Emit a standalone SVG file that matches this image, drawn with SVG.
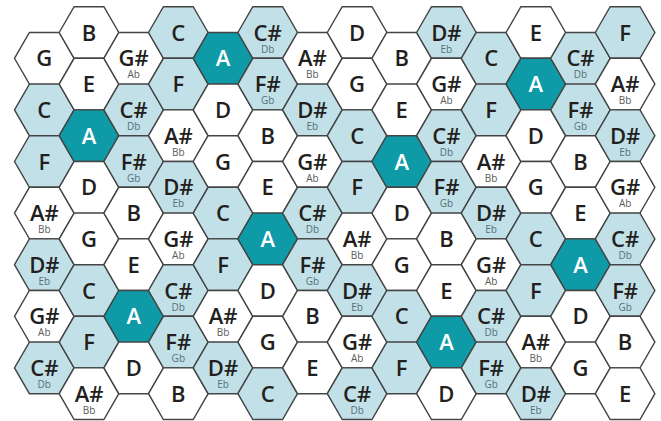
<svg xmlns="http://www.w3.org/2000/svg" width="661" height="421" viewBox="0 0 661 421">
<style>
use{stroke:#444;stroke-width:1.4;stroke-linejoin:miter}
.w use{fill:#ffffff}
.l use{fill:#c1e0e7}
.t use{fill:#0e9aa7}
text{font-family:"Open Sans","Liberation Sans",sans-serif;text-anchor:middle}
.m{font-size:22px;font-weight:600;fill:#231f20}
.t .m{fill:#ffffff}
.s{font-size:10px;font-weight:400;fill:#5a5a5a}
.l .s{fill:#55707a}
</style>
<defs>
<polygon id="hex" points="-29.8,0 -14.9,-25.8 14.9,-25.8 29.8,0 14.9,25.8 -14.9,25.8"/>
</defs>
<rect width="661" height="421" fill="#ffffff"/>
<g id="grid">
<!-- col 0 -->
<g id="c0r0" class="w" transform="translate(44.3,58.3)"><use href="#hex"/><text class="m" y="8">G</text></g>
<g id="c0r1" class="l" transform="translate(44.3,109.9)"><use href="#hex"/><text class="m" y="8">C</text></g>
<g id="c0r2" class="l" transform="translate(44.3,161.5)"><use href="#hex"/><text class="m" y="8">F</text></g>
<g id="c0r3" class="w" transform="translate(44.3,213.1)"><use href="#hex"/><text class="m"><tspan x="0" y="8">A#</tspan><tspan class="s" x="0" y="20">Bb</tspan></text></g>
<g id="c0r4" class="l" transform="translate(44.3,264.7)"><use href="#hex"/><text class="m"><tspan x="0" y="8">D#</tspan><tspan class="s" x="0" y="20">Eb</tspan></text></g>
<g id="c0r5" class="w" transform="translate(44.3,316.3)"><use href="#hex"/><text class="m"><tspan x="0" y="8">G#</tspan><tspan class="s" x="0" y="20">Ab</tspan></text></g>
<g id="c0r6" class="l" transform="translate(44.3,367.9)"><use href="#hex"/><text class="m"><tspan x="0" y="8">C#</tspan><tspan class="s" x="0" y="20">Db</tspan></text></g>
<!-- col 1 -->
<g id="c1r0" class="w" transform="translate(89,32.5)"><use href="#hex"/><text class="m" y="8">B</text></g>
<g id="c1r1" class="w" transform="translate(89,84.1)"><use href="#hex"/><text class="m" y="8">E</text></g>
<g id="c1r2" class="t" transform="translate(89,135.7)"><use href="#hex"/><text class="m" y="8">A</text></g>
<g id="c1r3" class="w" transform="translate(89,187.3)"><use href="#hex"/><text class="m" y="8">D</text></g>
<g id="c1r4" class="w" transform="translate(89,238.9)"><use href="#hex"/><text class="m" y="8">G</text></g>
<g id="c1r5" class="l" transform="translate(89,290.5)"><use href="#hex"/><text class="m" y="8">C</text></g>
<g id="c1r6" class="l" transform="translate(89,342.1)"><use href="#hex"/><text class="m" y="8">F</text></g>
<g id="c1r7" class="w" transform="translate(89,393.7)"><use href="#hex"/><text class="m"><tspan x="0" y="8">A#</tspan><tspan class="s" x="0" y="20">Bb</tspan></text></g>
<!-- col 2 -->
<g id="c2r0" class="w" transform="translate(133.7,58.3)"><use href="#hex"/><text class="m"><tspan x="0" y="8">G#</tspan><tspan class="s" x="0" y="20">Ab</tspan></text></g>
<g id="c2r1" class="l" transform="translate(133.7,109.9)"><use href="#hex"/><text class="m"><tspan x="0" y="8">C#</tspan><tspan class="s" x="0" y="20">Db</tspan></text></g>
<g id="c2r2" class="l" transform="translate(133.7,161.5)"><use href="#hex"/><text class="m"><tspan x="0" y="8">F#</tspan><tspan class="s" x="0" y="20">Gb</tspan></text></g>
<g id="c2r3" class="w" transform="translate(133.7,213.1)"><use href="#hex"/><text class="m" y="8">B</text></g>
<g id="c2r4" class="w" transform="translate(133.7,264.7)"><use href="#hex"/><text class="m" y="8">E</text></g>
<g id="c2r5" class="t" transform="translate(133.7,316.3)"><use href="#hex"/><text class="m" y="8">A</text></g>
<g id="c2r6" class="w" transform="translate(133.7,367.9)"><use href="#hex"/><text class="m" y="8">D</text></g>
<!-- col 3 -->
<g id="c3r0" class="l" transform="translate(178.3,32.5)"><use href="#hex"/><text class="m" y="8">C</text></g>
<g id="c3r1" class="l" transform="translate(178.3,84.1)"><use href="#hex"/><text class="m" y="8">F</text></g>
<g id="c3r2" class="w" transform="translate(178.3,135.7)"><use href="#hex"/><text class="m"><tspan x="0" y="8">A#</tspan><tspan class="s" x="0" y="20">Bb</tspan></text></g>
<g id="c3r3" class="l" transform="translate(178.3,187.3)"><use href="#hex"/><text class="m"><tspan x="0" y="8">D#</tspan><tspan class="s" x="0" y="20">Eb</tspan></text></g>
<g id="c3r4" class="w" transform="translate(178.3,238.9)"><use href="#hex"/><text class="m"><tspan x="0" y="8">G#</tspan><tspan class="s" x="0" y="20">Ab</tspan></text></g>
<g id="c3r5" class="l" transform="translate(178.3,290.5)"><use href="#hex"/><text class="m"><tspan x="0" y="8">C#</tspan><tspan class="s" x="0" y="20">Db</tspan></text></g>
<g id="c3r6" class="l" transform="translate(178.3,342.1)"><use href="#hex"/><text class="m"><tspan x="0" y="8">F#</tspan><tspan class="s" x="0" y="20">Gb</tspan></text></g>
<g id="c3r7" class="w" transform="translate(178.3,393.7)"><use href="#hex"/><text class="m" y="8">B</text></g>
<!-- col 4 -->
<g id="c4r0" class="t" transform="translate(223,58.3)"><use href="#hex"/><text class="m" y="8">A</text></g>
<g id="c4r1" class="w" transform="translate(223,109.9)"><use href="#hex"/><text class="m" y="8">D</text></g>
<g id="c4r2" class="w" transform="translate(223,161.5)"><use href="#hex"/><text class="m" y="8">G</text></g>
<g id="c4r3" class="l" transform="translate(223,213.1)"><use href="#hex"/><text class="m" y="8">C</text></g>
<g id="c4r4" class="l" transform="translate(223,264.7)"><use href="#hex"/><text class="m" y="8">F</text></g>
<g id="c4r5" class="w" transform="translate(223,316.3)"><use href="#hex"/><text class="m"><tspan x="0" y="8">A#</tspan><tspan class="s" x="0" y="20">Bb</tspan></text></g>
<g id="c4r6" class="l" transform="translate(223,367.9)"><use href="#hex"/><text class="m"><tspan x="0" y="8">D#</tspan><tspan class="s" x="0" y="20">Eb</tspan></text></g>
<!-- col 5 -->
<g id="c5r0" class="l" transform="translate(267.7,32.5)"><use href="#hex"/><text class="m"><tspan x="0" y="8">C#</tspan><tspan class="s" x="0" y="20">Db</tspan></text></g>
<g id="c5r1" class="l" transform="translate(267.7,84.1)"><use href="#hex"/><text class="m"><tspan x="0" y="8">F#</tspan><tspan class="s" x="0" y="20">Gb</tspan></text></g>
<g id="c5r2" class="w" transform="translate(267.7,135.7)"><use href="#hex"/><text class="m" y="8">B</text></g>
<g id="c5r3" class="w" transform="translate(267.7,187.3)"><use href="#hex"/><text class="m" y="8">E</text></g>
<g id="c5r4" class="t" transform="translate(267.7,238.9)"><use href="#hex"/><text class="m" y="8">A</text></g>
<g id="c5r5" class="w" transform="translate(267.7,290.5)"><use href="#hex"/><text class="m" y="8">D</text></g>
<g id="c5r6" class="w" transform="translate(267.7,342.1)"><use href="#hex"/><text class="m" y="8">G</text></g>
<g id="c5r7" class="l" transform="translate(267.7,393.7)"><use href="#hex"/><text class="m" y="8">C</text></g>
<!-- col 6 -->
<g id="c6r0" class="w" transform="translate(312.4,58.3)"><use href="#hex"/><text class="m"><tspan x="0" y="8">A#</tspan><tspan class="s" x="0" y="20">Bb</tspan></text></g>
<g id="c6r1" class="l" transform="translate(312.4,109.9)"><use href="#hex"/><text class="m"><tspan x="0" y="8">D#</tspan><tspan class="s" x="0" y="20">Eb</tspan></text></g>
<g id="c6r2" class="w" transform="translate(312.4,161.5)"><use href="#hex"/><text class="m"><tspan x="0" y="8">G#</tspan><tspan class="s" x="0" y="20">Ab</tspan></text></g>
<g id="c6r3" class="l" transform="translate(312.4,213.1)"><use href="#hex"/><text class="m"><tspan x="0" y="8">C#</tspan><tspan class="s" x="0" y="20">Db</tspan></text></g>
<g id="c6r4" class="l" transform="translate(312.4,264.7)"><use href="#hex"/><text class="m"><tspan x="0" y="8">F#</tspan><tspan class="s" x="0" y="20">Gb</tspan></text></g>
<g id="c6r5" class="w" transform="translate(312.4,316.3)"><use href="#hex"/><text class="m" y="8">B</text></g>
<g id="c6r6" class="w" transform="translate(312.4,367.9)"><use href="#hex"/><text class="m" y="8">E</text></g>
<!-- col 7 -->
<g id="c7r0" class="w" transform="translate(357.1,32.5)"><use href="#hex"/><text class="m" y="8">D</text></g>
<g id="c7r1" class="w" transform="translate(357.1,84.1)"><use href="#hex"/><text class="m" y="8">G</text></g>
<g id="c7r2" class="l" transform="translate(357.1,135.7)"><use href="#hex"/><text class="m" y="8">C</text></g>
<g id="c7r3" class="l" transform="translate(357.1,187.3)"><use href="#hex"/><text class="m" y="8">F</text></g>
<g id="c7r4" class="w" transform="translate(357.1,238.9)"><use href="#hex"/><text class="m"><tspan x="0" y="8">A#</tspan><tspan class="s" x="0" y="20">Bb</tspan></text></g>
<g id="c7r5" class="l" transform="translate(357.1,290.5)"><use href="#hex"/><text class="m"><tspan x="0" y="8">D#</tspan><tspan class="s" x="0" y="20">Eb</tspan></text></g>
<g id="c7r6" class="w" transform="translate(357.1,342.1)"><use href="#hex"/><text class="m"><tspan x="0" y="8">G#</tspan><tspan class="s" x="0" y="20">Ab</tspan></text></g>
<g id="c7r7" class="l" transform="translate(357.1,393.7)"><use href="#hex"/><text class="m"><tspan x="0" y="8">C#</tspan><tspan class="s" x="0" y="20">Db</tspan></text></g>
<!-- col 8 -->
<g id="c8r0" class="w" transform="translate(401.7,58.3)"><use href="#hex"/><text class="m" y="8">B</text></g>
<g id="c8r1" class="w" transform="translate(401.7,109.9)"><use href="#hex"/><text class="m" y="8">E</text></g>
<g id="c8r2" class="t" transform="translate(401.7,161.5)"><use href="#hex"/><text class="m" y="8">A</text></g>
<g id="c8r3" class="w" transform="translate(401.7,213.1)"><use href="#hex"/><text class="m" y="8">D</text></g>
<g id="c8r4" class="w" transform="translate(401.7,264.7)"><use href="#hex"/><text class="m" y="8">G</text></g>
<g id="c8r5" class="l" transform="translate(401.7,316.3)"><use href="#hex"/><text class="m" y="8">C</text></g>
<g id="c8r6" class="l" transform="translate(401.7,367.9)"><use href="#hex"/><text class="m" y="8">F</text></g>
<!-- col 9 -->
<g id="c9r0" class="l" transform="translate(446.4,32.5)"><use href="#hex"/><text class="m"><tspan x="0" y="8">D#</tspan><tspan class="s" x="0" y="20">Eb</tspan></text></g>
<g id="c9r1" class="w" transform="translate(446.4,84.1)"><use href="#hex"/><text class="m"><tspan x="0" y="8">G#</tspan><tspan class="s" x="0" y="20">Ab</tspan></text></g>
<g id="c9r2" class="l" transform="translate(446.4,135.7)"><use href="#hex"/><text class="m"><tspan x="0" y="8">C#</tspan><tspan class="s" x="0" y="20">Db</tspan></text></g>
<g id="c9r3" class="l" transform="translate(446.4,187.3)"><use href="#hex"/><text class="m"><tspan x="0" y="8">F#</tspan><tspan class="s" x="0" y="20">Gb</tspan></text></g>
<g id="c9r4" class="w" transform="translate(446.4,238.9)"><use href="#hex"/><text class="m" y="8">B</text></g>
<g id="c9r5" class="w" transform="translate(446.4,290.5)"><use href="#hex"/><text class="m" y="8">E</text></g>
<g id="c9r6" class="t" transform="translate(446.4,342.1)"><use href="#hex"/><text class="m" y="8">A</text></g>
<g id="c9r7" class="w" transform="translate(446.4,393.7)"><use href="#hex"/><text class="m" y="8">D</text></g>
<!-- col 10 -->
<g id="c10r0" class="l" transform="translate(491.1,58.3)"><use href="#hex"/><text class="m" y="8">C</text></g>
<g id="c10r1" class="l" transform="translate(491.1,109.9)"><use href="#hex"/><text class="m" y="8">F</text></g>
<g id="c10r2" class="w" transform="translate(491.1,161.5)"><use href="#hex"/><text class="m"><tspan x="0" y="8">A#</tspan><tspan class="s" x="0" y="20">Bb</tspan></text></g>
<g id="c10r3" class="l" transform="translate(491.1,213.1)"><use href="#hex"/><text class="m"><tspan x="0" y="8">D#</tspan><tspan class="s" x="0" y="20">Eb</tspan></text></g>
<g id="c10r4" class="w" transform="translate(491.1,264.7)"><use href="#hex"/><text class="m"><tspan x="0" y="8">G#</tspan><tspan class="s" x="0" y="20">Ab</tspan></text></g>
<g id="c10r5" class="l" transform="translate(491.1,316.3)"><use href="#hex"/><text class="m"><tspan x="0" y="8">C#</tspan><tspan class="s" x="0" y="20">Db</tspan></text></g>
<g id="c10r6" class="l" transform="translate(491.1,367.9)"><use href="#hex"/><text class="m"><tspan x="0" y="8">F#</tspan><tspan class="s" x="0" y="20">Gb</tspan></text></g>
<!-- col 11 -->
<g id="c11r0" class="w" transform="translate(535.8,32.5)"><use href="#hex"/><text class="m" y="8">E</text></g>
<g id="c11r1" class="t" transform="translate(535.8,84.1)"><use href="#hex"/><text class="m" y="8">A</text></g>
<g id="c11r2" class="w" transform="translate(535.8,135.7)"><use href="#hex"/><text class="m" y="8">D</text></g>
<g id="c11r3" class="w" transform="translate(535.8,187.3)"><use href="#hex"/><text class="m" y="8">G</text></g>
<g id="c11r4" class="l" transform="translate(535.8,238.9)"><use href="#hex"/><text class="m" y="8">C</text></g>
<g id="c11r5" class="l" transform="translate(535.8,290.5)"><use href="#hex"/><text class="m" y="8">F</text></g>
<g id="c11r6" class="w" transform="translate(535.8,342.1)"><use href="#hex"/><text class="m"><tspan x="0" y="8">A#</tspan><tspan class="s" x="0" y="20">Bb</tspan></text></g>
<g id="c11r7" class="l" transform="translate(535.8,393.7)"><use href="#hex"/><text class="m"><tspan x="0" y="8">D#</tspan><tspan class="s" x="0" y="20">Eb</tspan></text></g>
<!-- col 12 -->
<g id="c12r0" class="l" transform="translate(580.5,58.3)"><use href="#hex"/><text class="m"><tspan x="0" y="8">C#</tspan><tspan class="s" x="0" y="20">Db</tspan></text></g>
<g id="c12r1" class="l" transform="translate(580.5,109.9)"><use href="#hex"/><text class="m"><tspan x="0" y="8">F#</tspan><tspan class="s" x="0" y="20">Gb</tspan></text></g>
<g id="c12r2" class="w" transform="translate(580.5,161.5)"><use href="#hex"/><text class="m" y="8">B</text></g>
<g id="c12r3" class="w" transform="translate(580.5,213.1)"><use href="#hex"/><text class="m" y="8">E</text></g>
<g id="c12r4" class="t" transform="translate(580.5,264.7)"><use href="#hex"/><text class="m" y="8">A</text></g>
<g id="c12r5" class="w" transform="translate(580.5,316.3)"><use href="#hex"/><text class="m" y="8">D</text></g>
<g id="c12r6" class="w" transform="translate(580.5,367.9)"><use href="#hex"/><text class="m" y="8">G</text></g>
<!-- col 13 -->
<g id="c13r0" class="l" transform="translate(625.1,32.5)"><use href="#hex"/><text class="m" y="8">F</text></g>
<g id="c13r1" class="w" transform="translate(625.1,84.1)"><use href="#hex"/><text class="m"><tspan x="0" y="8">A#</tspan><tspan class="s" x="0" y="20">Bb</tspan></text></g>
<g id="c13r2" class="l" transform="translate(625.1,135.7)"><use href="#hex"/><text class="m"><tspan x="0" y="8">D#</tspan><tspan class="s" x="0" y="20">Eb</tspan></text></g>
<g id="c13r3" class="w" transform="translate(625.1,187.3)"><use href="#hex"/><text class="m"><tspan x="0" y="8">G#</tspan><tspan class="s" x="0" y="20">Ab</tspan></text></g>
<g id="c13r4" class="l" transform="translate(625.1,238.9)"><use href="#hex"/><text class="m"><tspan x="0" y="8">C#</tspan><tspan class="s" x="0" y="20">Db</tspan></text></g>
<g id="c13r5" class="l" transform="translate(625.1,290.5)"><use href="#hex"/><text class="m"><tspan x="0" y="8">F#</tspan><tspan class="s" x="0" y="20">Gb</tspan></text></g>
<g id="c13r6" class="w" transform="translate(625.1,342.1)"><use href="#hex"/><text class="m" y="8">B</text></g>
<g id="c13r7" class="w" transform="translate(625.1,393.7)"><use href="#hex"/><text class="m" y="8">E</text></g>
</g>
<g id="connectors"/>
</svg>
